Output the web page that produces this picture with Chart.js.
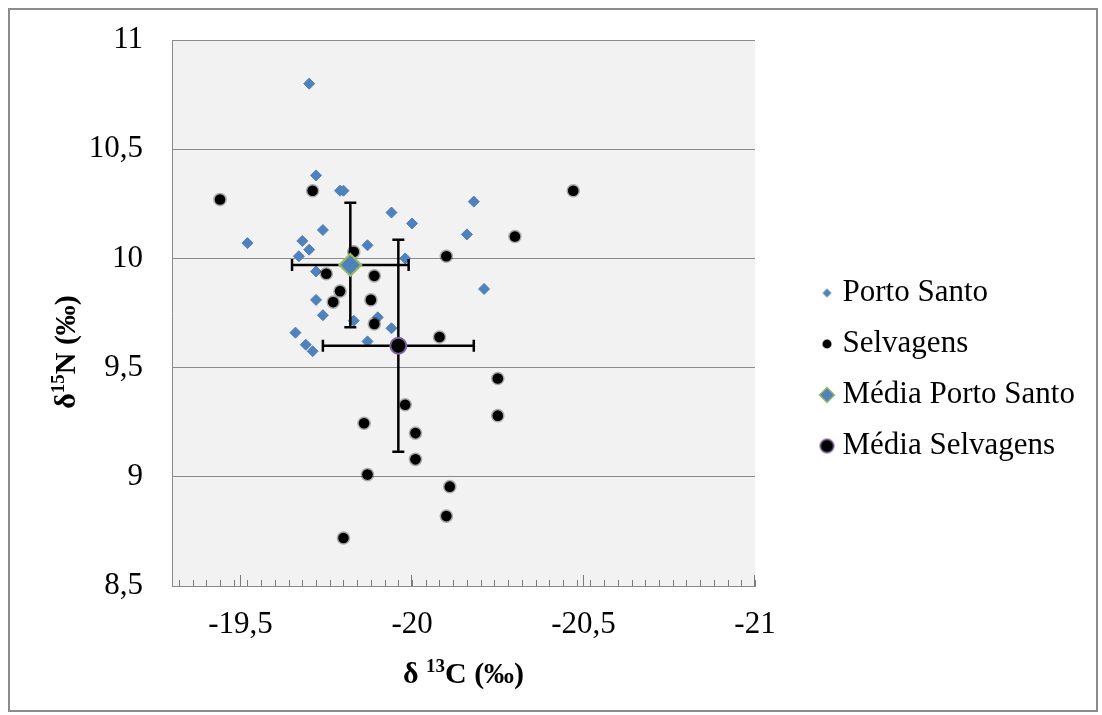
<!DOCTYPE html>
<html>
<head>
<meta charset="utf-8">
<script src="https://cdn.jsdelivr.net/npm/chart.js@4.4.1/dist/chart.umd.min.js"></script>
<style>
html,body{margin:0;padding:0;background:#fff;}
#wrap{position:relative;width:1102px;height:715px;}
canvas{display:block;}
</style>
</head>
<body>
<div id="wrap"><canvas id="c" width="1102" height="715"></canvas></div>
<script>
// ---- data ----
const seriesNames = ['Porto Santo', 'Selvagens', 'Média Porto Santo', 'Média Selvagens'];

const portoSantoX = [-19.70, -19.72, -19.79, -19.80, -19.52, -20.18, -19.94, -20.00, -20.16, -19.98, -20.21, -19.74, -19.68,
                     -19.70, -19.87, -19.67, -19.72, -19.72, -19.74, -19.83, -19.90, -19.94, -19.66, -19.87, -19.69, -19.71];
const portoSantoY = [10.80, 10.38, 10.31, 10.31, 10.07, 10.26, 10.21, 10.16, 10.11, 10.00, 9.86, 10.13, 10.08,
                     10.04, 10.06, 10.01, 9.94, 9.81, 9.74, 9.715, 9.73, 9.68, 9.66, 9.62, 9.605, 9.575];

const selvagensX = [-19.44, -19.71, -20.47, -20.30, -20.10, -19.83, -19.75, -19.89, -19.79, -19.77, -19.88, -19.89,
                    -20.08, -20.25, -19.98, -19.86, -20.01, -20.25, -20.01, -19.87, -20.11, -20.10, -19.80];
const selvagensY = [10.27, 10.31, 10.31, 10.10, 10.01, 10.03, 9.93, 9.92, 9.85, 9.80, 9.81, 9.70,
                    9.64, 9.45, 9.33, 9.245, 9.20, 9.28, 9.08, 9.01, 8.955, 8.82, 8.72];

const meanX = [-19.82, -19.96];   // Média Porto Santo, Média Selvagens
const meanY = [9.97, 9.60];
const sdX = [0.17, 0.22];
const sdY = [0.285, 0.485];

const xTickValues = [-19.5, -20, -20.5, -21];
const xTickLabels = ['-19,5', '-20', '-20,5', '-21'];
const yTickValues = [8.5, 9, 9.5, 10, 10.5, 11];
const yTickLabels = ['8,5', '9', '9,5', '10', '10,5', '11'];
const xMinorStep = 0.04;

const xTitleParts = [['δ ', false], ['13', true], ['C (‰)', false]];
const yTitleParts = [['δ', false], ['15', true], ['N (‰)', false]];

// ---- styling ----
const FONT = '"Liberation Serif", "Times New Roman", serif';
const BLUE = '#4F81BD';
const GREEN = '#9BBB59';
const PURPLE = '#8064A2';
const GRID = '#8a8a8a';
const LEGEND_W = 300;

function zip(xs, ys) { return xs.map((x, i) => ({x: x, y: ys[i]})); }

function markerCanvas(kind, r, fill, stroke, lw, dx) {
  const pad = r + lw + 2;
  const w = Math.ceil(2 * (pad + Math.abs(dx)));
  const h = Math.ceil(2 * pad);
  const c = document.createElement('canvas');
  c.width = w; c.height = h;
  const g = c.getContext('2d');
  const cx = w / 2 + dx, cy = h / 2;
  g.beginPath();
  if (kind === 'diamond') {
    g.moveTo(cx - r, cy); g.lineTo(cx, cy - r); g.lineTo(cx + r, cy); g.lineTo(cx, cy + r); g.closePath();
  } else {
    g.arc(cx, cy, r, 0, Math.PI * 2);
  }
  g.fillStyle = fill; g.fill();
  if (lw) { g.lineWidth = lw; g.strokeStyle = stroke; g.stroke(); }
  return c;
}
const legendMarkers = [
  markerCanvas('diamond', 4.5, BLUE, BLUE, 0, 4),
  markerCanvas('circle', 4.3, '#000', 'rgba(0,0,0,0.3)', 1.5, 4),
  markerCanvas('diamond', 7.5, BLUE, GREEN, 1.5, 4),
  markerCanvas('circle', 6.8, '#000', PURPLE, 1.5, 4)
];

function drawRich(ctx, parts, size) {
  const supSize = Math.round(size * 0.62);
  let total = 0;
  const widths = parts.map(p => {
    ctx.font = 'bold ' + (p[1] ? supSize : size) + 'px ' + FONT;
    const w = ctx.measureText(p[0]).width; total += w; return w;
  });
  let x = -total / 2;
  parts.forEach((p, i) => {
    ctx.font = 'bold ' + (p[1] ? supSize : size) + 'px ' + FONT;
    ctx.fillText(p[0], x, p[1] ? -Math.round(size * 0.36) : 0);
    x += widths[i];
  });
}

const decor = {
  id: 'decor',
  beforeLayout(chart) {
    const lg = chart.legend;
    if (lg && !lg._patched) {
      const orig = lg.fit;
      lg.fit = function () { orig.call(this); this.width = LEGEND_W; };
      lg._patched = true;
    }
  },
  afterLayout(chart) {
    const lg = chart.legend;
    if (lg) {
      const left = 799, top = 32;
      lg.left = left; lg.right = left + LEGEND_W;
      lg.top = top; lg.bottom = top + 675;
    }
  },
  beforeDraw(chart) {
    const ctx = chart.ctx, a = chart.chartArea;
    ctx.save();
    ctx.fillStyle = '#fff';
    ctx.fillRect(0, 0, chart.width, chart.height);
    ctx.fillStyle = '#f2f2f2';
    ctx.fillRect(a.left, a.top, a.right - a.left, a.bottom - a.top);
    ctx.strokeStyle = '#8c8c8c';
    ctx.lineWidth = 2;
    ctx.strokeRect(9, 9, 1088, 702);
    ctx.restore();
  },
  beforeDatasetsDraw(chart) {
    const ctx = chart.ctx, xs = chart.scales.x, a = chart.chartArea;
    ctx.save();
    ctx.strokeStyle = '#7a7a7a';
    ctx.lineWidth = 1;
    ctx.beginPath();
    const n = Math.round((xs.max - xs.min) / xMinorStep);
    for (let k = 0; k <= n; k++) {
      const v = xs.min + k * xMinorStep;
      if (v > xs.max + 1e-9) break;
      const px = Math.round(xs.getPixelForValue(v)) + 0.5;
      ctx.moveTo(px, a.bottom); ctx.lineTo(px, a.bottom - 6);
    }
    xTickValues.forEach(v => {
      const px = Math.round(xs.getPixelForValue(v)) - 0.5;
      ctx.moveTo(px, a.bottom); ctx.lineTo(px, a.bottom - 11);
    });
    ctx.stroke();
    ctx.restore();
  },
  afterDatasetDraw(chart, args) {
    if (args.index !== 1) return;
    const ctx = chart.ctx, xs = chart.scales.x, ys = chart.scales.y;
    ctx.save();
    ctx.strokeStyle = '#000';
    ctx.lineWidth = 2.5;
    const cap = 6;
    for (let i = 0; i < meanX.length; i++) {
      const cx = xs.getPixelForValue(meanX[i]);
      const cy = ys.getPixelForValue(meanY[i]);
      const x1 = xs.getPixelForValue(meanX[i] - sdX[i]);
      const x2 = xs.getPixelForValue(meanX[i] + sdX[i]);
      const y1 = ys.getPixelForValue(meanY[i] + sdY[i]);
      const y2 = ys.getPixelForValue(meanY[i] - sdY[i]);
      ctx.beginPath();
      ctx.moveTo(x1, cy); ctx.lineTo(x2, cy);
      ctx.moveTo(x1, cy - cap); ctx.lineTo(x1, cy + cap);
      ctx.moveTo(x2, cy - cap); ctx.lineTo(x2, cy + cap);
      ctx.moveTo(cx, y1); ctx.lineTo(cx, y2);
      ctx.moveTo(cx - cap, y1); ctx.lineTo(cx + cap, y1);
      ctx.moveTo(cx - cap, y2); ctx.lineTo(cx + cap, y2);
      ctx.stroke();
    }
    ctx.restore();
  },
  afterDraw(chart) {
    const ctx = chart.ctx, a = chart.chartArea;
    ctx.save();
    ctx.fillStyle = '#000';
    ctx.textBaseline = 'alphabetic';
    ctx.textAlign = 'left';
    ctx.save();
    ctx.translate((a.left + a.right) / 2, 683);
    drawRich(ctx, xTitleParts, 30);
    ctx.restore();
    ctx.save();
    ctx.translate(75, 352);
    ctx.rotate(-Math.PI / 2);
    drawRich(ctx, yTitleParts, 30);
    ctx.restore();
    ctx.restore();
  }
};

new Chart(document.getElementById('c'), {
  type: 'scatter',
  data: {
    datasets: [
      {
        label: seriesNames[0], data: zip(portoSantoX, portoSantoY), order: 4,
        pointStyle: 'rectRot', pointRadius: 5.5, backgroundColor: BLUE, borderColor: BLUE, borderWidth: 1
      },
      {
        label: seriesNames[1], data: zip(selvagensX, selvagensY), order: 3,
        pointStyle: 'circle', pointRadius: 5.3, backgroundColor: '#000', borderColor: 'rgba(0,0,0,0.3)', borderWidth: 3
      },
      {
        label: seriesNames[2], data: [{x: meanX[0], y: meanY[0]}], order: 2,
        pointStyle: 'rectRot', pointRadius: 11, backgroundColor: BLUE, borderColor: GREEN, borderWidth: 2
      },
      {
        label: seriesNames[3], data: [{x: meanX[1], y: meanY[1]}], order: 1,
        pointStyle: 'circle', pointRadius: 8, backgroundColor: '#000', borderColor: PURPLE, borderWidth: 2
      }
    ]
  },
  options: {
    responsive: false,
    animation: false,
    devicePixelRatio: 1,
    events: [],
    layout: {padding: {left: 10, top: 40, right: 1102 - 755 - LEGEND_W, bottom: 0}},
    scales: {
      x: {
        type: 'linear', position: 'bottom',
        min: -21, max: -19.3, reverse: true,
        afterBuildTicks: s => { s.ticks = xTickValues.map(v => ({value: v})); },
        afterFit: s => { s.height = 129; s.paddingLeft = 0; s.paddingRight = 0; },
        grid: {display: false, drawTicks: false},
        border: {display: true, color: GRID, width: 1},
        ticks: {
          padding: 20, color: '#000', maxRotation: 0, autoSkip: false,
          font: {family: FONT, size: 31},
          callback: v => xTickLabels[xTickValues.indexOf(v)]
        }
      },
      y: {
        type: 'linear', position: 'left',
        min: 8.5, max: 11,
        afterBuildTicks: s => { s.ticks = yTickValues.map(v => ({value: v})); },
        afterFit: s => { s.width = 162; s.paddingTop = 0; s.paddingBottom = 0; },
        grid: {color: GRID, lineWidth: 1, drawTicks: false},
        border: {display: true, color: GRID, width: 1},
        ticks: {
          padding: 29, color: '#000', autoSkip: false,
          font: {family: FONT, size: 31},
          callback: v => yTickLabels[yTickValues.indexOf(v)]
        }
      }
    },
    plugins: {
      tooltip: {enabled: false},
      legend: {
        position: 'right',
        labels: {
          color: '#000',
          font: {family: FONT, size: 31},
          usePointStyle: true,
          boxWidth: 8, boxHeight: 8,
          padding: 20,
          sort: (a, b) => a.datasetIndex - b.datasetIndex,
          generateLabels: chart => {
            const items = Chart.defaults.plugins.legend.labels.generateLabels(chart);
            items.forEach(it => { it.pointStyle = legendMarkers[it.datasetIndex]; });
            return items;
          }
        }
      }
    }
  },
  plugins: [decor]
});
</script>
</body>
</html>
